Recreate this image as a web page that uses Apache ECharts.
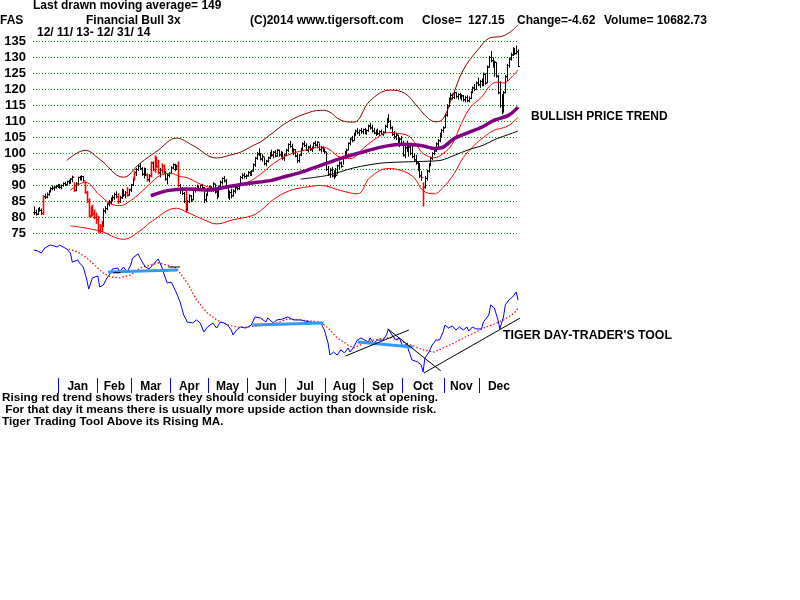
<!DOCTYPE html>
<html><head><meta charset="utf-8">
<script src="https://cdn.jsdelivr.net/npm/echarts@6/dist/echarts.min.js"></script>
<style>html,body{margin:0;padding:0;background:#fff}#c{width:800px;height:600px}</style>
</head><body><div id="c"></div>
<script>
// ---- daily price data (trading days 12/11/13 .. 12/31/14) ----
const priceHigh = [
 83.5,82.5,83.0,83.3,82.8,87.0,87.5,87.8,88.5,89.5,90.0,89.8,90.2,90.5,
 90.5,90.3,91.0,91.2,91.5,91.8,92.3,93.1,91.0,91.0,92.8,93.0,93.2,93.0,91.2,88.3,86.0,83.5,84.0,82.5,81.5,
 80.5,78.0,79.0,82.8,83.5,84.6,85.5,86.3,87.0,87.8,88.2,87.6,86.8,89.0,88.8,88.3,89.5,89.0,90.5,
 92.5,94.5,95.5,96.5,97.0,95.8,95.6,95.5,93.8,93.5,97.5,97.5,99.4,99.0,98.0,95.5,96.9,96.5,94.5,93.7,94.2,
 96.0,96.9,96.8,96.5,97.5,90.5,89.5,88.0,89.5,85.5,87.3,87.0,89.0,89.5,90.3,89.8,90.3,90.5,89.5,87.5,89.2,
 90.0,89.8,91.0,90.5,88.5,90.0,91.5,92.5,93.0,92.0,90.0,88.5,89.0,88.8,89.8,90.0,90.5,93.0,93.8,94.0,93.5,
 94.5,94.5,94.8,96.9,99.0,100.5,101.6,100.2,99.8,98.8,98.0,99.0,100.5,101.2,100.8,101.0,101.4,101.2,100.8,100.5,100.0,
 101.5,103.2,104.0,103.0,101.6,101.4,100.0,99.8,101.8,103.5,104.0,103.2,102.4,102.8,102.2,103.5,104.0,103.8,103.2,102.4,102.2,101.6,
 100.5,96.1,95.5,95.8,94.8,95.5,96.5,97.6,97.5,99.0,100.8,101.5,103.5,105.0,105.5,106.5,107.5,108.0,107.5,108.0,107.8,
 108.0,107.5,109.0,109.6,109.0,108.0,107.5,107.8,107.2,107.5,107.0,109.0,111.0,112.3,110.5,108.5,107.0,106.5,105.8,105.0,105.5,
 104.0,102.5,104.0,102.5,102.8,103.0,100.0,99.5,97.5,97.0,94.5,91.0,93.0,95.0,97.0,99.0,100.4,101.5,103.5,104.5,106.5,107.7,108.5,
 112.5,115.5,117.5,119.0,118.8,119.5,119.3,118.8,119.0,118.5,118.3,118.0,118.2,117.8,119.5,121.0,121.7,122.5,123.7,
 123.0,123.5,125.3,125.0,127.5,130.5,132.0,130.0,129.0,128.5,124.5,122.6,118.5,119.5,124.5,128.0,130.0,131.5,133.2,133.0,133.7,132.5
];
const priceLow = [
 80.8,80.6,80.8,81.8,80.8,80.8,85.8,86.0,86.8,87.8,88.5,88.4,89.0,89.2,
 89.0,88.8,89.6,89.8,90.0,90.4,90.5,91.0,88.0,88.2,90.3,91.6,91.5,91.2,87.4,84.5,80.0,80.0,80.5,79.5,78.0,
 75.2,75.0,75.5,77.0,81.2,82.3,83.5,84.0,85.0,85.5,86.0,84.3,84.5,85.8,86.5,86.0,86.5,86.8,88.0,
 89.8,91.5,93.0,94.5,94.8,93.0,92.2,93.0,91.2,91.0,92.5,94.5,94.0,95.5,93.5,92.5,93.7,93.5,91.5,90.3,92.5,
 93.5,95.0,94.5,94.8,89.6,87.3,87.0,84.5,81.5,82.2,84.5,84.8,85.5,87.8,88.3,88.4,88.5,88.8,84.5,84.8,86.8,
 88.2,88.0,88.0,87.5,85.7,86.3,89.0,90.3,91.0,89.5,86.0,85.5,86.0,86.5,87.5,88.5,88.6,90.0,92.0,92.2,92.0,
 92.8,93.0,93.0,94.3,95.8,98.0,99.2,97.8,97.5,96.3,96.0,97.2,98.2,99.0,98.5,98.8,99.0,99.0,98.8,98.0,97.7,
 99.2,100.5,101.8,100.3,99.5,98.8,97.0,97.2,99.2,100.8,102.0,100.8,100.3,100.8,100.5,101.5,102.2,101.9,100.8,100.3,100.5,99.8,
 94.5,93.0,92.4,92.5,92.0,92.5,93.5,95.0,95.5,96.5,98.2,99.5,101.0,102.5,103.5,104.0,105.5,106.0,105.5,106.2,106.0,
 106.0,105.8,106.8,107.5,106.5,106.0,105.5,105.8,105.5,105.8,105.5,106.5,108.0,109.5,107.5,105.5,104.5,104.2,103.0,102.0,102.5,
 99.0,98.5,100.5,99.0,99.5,98.5,97.5,96.5,94.5,92.3,91.5,83.5,89.0,91.5,94.0,96.0,98.0,99.5,100.5,102.0,103.5,105.0,106.5,
 108.0,111.5,114.5,116.5,116.8,117.0,117.2,116.8,117.0,116.5,116.2,116.0,116.0,116.0,117.0,118.8,119.5,120.0,121.0,
 120.5,121.0,121.0,121.5,122.0,126.8,128.5,126.8,124.0,123.7,118.5,114.3,112.3,112.8,118.8,122.6,126.8,129.0,130.5,130.8,131.0,127.0
];
const priceClose = [
 81.5,81.0,82.5,82.2,81.3,86.5,86.3,87.2,88.2,89.0,89.2,89.5,89.7,90.0,
 89.4,90.0,90.6,90.3,91.2,91.0,92.0,92.6,88.5,90.5,92.5,92.0,92.8,91.5,87.8,85.0,80.5,82.5,81.2,80.0,79.5,
 76.0,77.2,78.2,82.0,82.8,84.2,84.8,85.8,86.2,87.2,86.5,85.0,86.2,88.5,87.0,87.8,87.0,88.6,90.2,
 92.0,94.0,95.0,96.0,95.3,93.5,94.8,93.3,91.8,93.0,97.0,95.0,98.8,96.0,94.0,94.8,96.2,94.0,92.0,93.2,93.8,
 95.5,96.5,95.2,96.0,90.0,89.0,87.5,85.0,82.5,85.0,86.8,85.5,88.5,89.0,89.6,88.8,90.0,89.3,85.5,87.0,88.8,
 89.5,88.5,90.5,88.0,86.5,89.5,91.0,92.2,91.4,90.0,86.8,87.8,86.8,88.2,89.3,89.0,90.2,92.5,93.2,92.8,93.0,
 94.0,93.5,94.5,96.5,98.5,99.8,100.0,98.3,99.0,96.8,97.6,98.6,100.0,99.5,100.4,99.2,101.0,99.6,100.2,98.6,99.5,
 101.0,102.8,102.2,100.8,101.2,99.2,97.8,99.5,101.5,103.0,102.5,101.0,102.0,101.2,101.8,103.2,102.6,103.5,101.2,101.8,100.8,100.5,
 95.0,93.5,94.8,93.0,94.2,93.2,96.2,97.0,96.0,98.6,100.4,101.0,103.2,104.5,104.0,106.0,107.0,106.5,107.2,106.8,107.5,
 106.5,107.2,108.6,108.0,107.0,106.4,107.0,106.2,106.8,106.0,106.6,108.5,110.5,110.0,108.0,106.0,105.2,105.8,103.5,104.5,103.0,
 99.5,101.8,101.0,102.0,100.0,99.0,98.0,97.0,95.0,93.0,92.5,89.5,92.2,94.5,96.5,98.5,100.0,100.8,103.0,104.0,106.0,107.2,108.0,
 112.0,115.0,116.8,118.2,117.5,119.0,117.8,118.4,117.3,118.0,116.8,117.5,116.5,117.2,119.2,120.5,120.0,122.0,121.5,
 122.5,121.5,124.8,122.0,127.0,130.0,129.0,127.2,128.5,124.2,119.0,115.0,113.0,119.0,124.0,127.5,129.5,130.8,132.5,131.2,131.77,127.15
];
const redBarDays = [5,22,28,29,30,31,32,33,34,35,36,37,46,51,55,62,64,66,67,68,70,71,79,83,213];

// ---- bands and moving averages [tradingDay, value] ----
const upperBand = [[18,97.8],[28,101],[36,98.2],[49,92.6],[58,96.9],[68,101],[78,104.8],[87,102.5],[100,98.6],[108,99.6],[113,100.4],[120,102.5],[124,103.6],[131,106.6],[139,109.9],[148,112.3],[157,113.5],[161,113.2],[168,110.4],[175,109.8],[184,116.5],[195,119.8],[203,118.8],[210,114.6],[216,110.9],[220,109.9],[224,110.9],[229,117.7],[235,126.1],[243,132.4],[250,136.2],[256,136.6],[261,138.1],[265,140.2]];
const midBand = [[20,88.5],[28,91],[36,87],[42,84.3],[47,83.7],[53,85.3],[58,87.6],[64,90.8],[69,93.1],[75,93.8],[80,92.8],[84,92.4],[91,90.5],[100,89],[109,89.6],[117,91],[124,93.5],[131,96.8],[139,99.5],[148,101],[157,102],[161,101.5],[168,98.7],[173,98.4],[181,102],[188,105],[194,106.6],[199,106.3],[205,105.5],[209,103],[213,100],[219,98.7],[224,100],[229,103],[234,109.4],[239,114.5],[245,117.6],[250,121.4],[254,122.3],[257,122],[261,123.6],[265,126.1]];
const lowerBand = [[20,77.4],[36,75.8],[49,73.2],[58,75.8],[65,79],[78,82.9],[84,81.6],[93,79.3],[100,78],[109,79.3],[119,80.5],[124,82.1],[131,85.6],[140,88.4],[148,89.4],[157,90],[168,88.4],[177,87.4],[184,92.5],[194,95.3],[201,94.7],[208,92.5],[213,88.4],[219,87.4],[224,89.4],[230,93.7],[235,98.7],[241,102.5],[246,105],[252,107.3],[256,107.9],[260,108.8],[265,111.3]];
const ma50 = [[64,86.8],[73,88.4],[84,88.9],[95,88.6],[106,89.6],[117,90.6],[130,91.6],[135,92.4],[146,94.1],[157,96.3],[168,98.5],[179,100.3],[190,102],[201,102.9],[212,102.5],[219,101.6],[224,102],[230,104.7],[238,106.6],[245,108.2],[252,110.4],[260,112],[265,114.5]];
const ma200 = [[146,92],[161,93.2],[175,95.5],[190,97],[205,97.4],[216,97.6],[223,97.9],[230,99.4],[238,101.2],[246,102.6],[252,104.3],[265,107]];

// ---- Tiger day-trader's tool (lower panel) ----
const toolLine = [[0,95.3],[2,94.7],[4,93.3],[6,96.7],[9,98.7],[13,97.3],[14,98.7],[16,97.3],[18,96],[20,93.3],[21,87.3],[24,88.7],[25,86.7],[27,84],[29,75.3],[30,69.3],[32,76.7],[35,78],[36,70.7],[38,72],[40,76.7],[42,80],[43,82.7],[46,83.3],[47,80.7],[49,84],[51,80.7],[53,85.3],[54,90],[57,92.7],[59,88],[61,84],[63,82.7],[65,85.3],[66,84],[68,89.3],[70,84],[71,80],[73,73.3],[75,74],[76,72],[78,66.7],[80,60.7],[82,52],[84,47.3],[87,46.7],[89,48.7],[91,46.7],[93,40.7],[95,44],[98,46.7],[100,43.3],[102,47.3],[104,46.7],[106,45.3],[108,42],[109,38.7],[111,42],[113,44],[116,43.3],[119,45.3],[121,50.7],[124,50],[127,47.3],[128,50],[131,46.7],[133,48.7],[136,49.3],[139,50.7],[140,51.3],[142,48.7],[146,48.7],[151,47.3],[157,46.7],[159,42],[161,33.3],[162,25.3],[164,27.3],[166,25.3],[168,28.7],[170,26.7],[172,30],[173,27.3],[175,30.7],[177,35.3],[179,36.7],[181,35.3],[183,34],[184,36.7],[186,33.3],[188,35.3],[191,35.3],[193,38.7],[194,42.7],[196,38.7],[198,35.3],[200,36.7],[202,30.7],[204,33.3],[205,28.7],[207,22],[210,20.7],[212,18.7],[213,14],[214,23.3],[216,26.7],[218,32],[220,35.3],[222,35.3],[224,40.7],[225,45.3],[227,43.3],[229,44.7],[231,42],[233,44],[235,42],[237,44],[238,41.3],[240,44],[242,42.7],[245,42.7],[246,47.3],[249,52],[250,58.7],[252,56.7],[254,48.7],[255,42.7],[257,50.7],[258,58.7],[260,62],[262,64],[263,63.3],[264,67.3],[265,62]];
const toolMA = [[19,96],[24,94],[29,90],[35,83.3],[38,80],[42,77.3],[47,76.7],[53,78.7],[58,83.3],[64,85.3],[68,86.7],[73,85.3],[78,83.3],[84,73.3],[89,62],[95,53.3],[100,48.7],[106,45.3],[111,44],[117,44],[122,44.7],[128,45.3],[133,46.7],[139,49.3],[146,48.7],[151,48],[157,47.3],[161,43.3],[166,36.7],[172,32],[175,30],[181,33.3],[186,35.3],[192,36.7],[197,36.7],[202,34],[208,31.3],[213,28.7],[219,27.3],[224,30],[230,33.3],[235,36.7],[241,40],[246,43.3],[252,46],[257,48.7],[263,53.3],[265,56.7]];
const blueTrendLines = [[[40.6,80.7],[78.5,82]],[[119.6,45.3],[158.6,46.7]],[[177.2,34],[207.4,30.7]]];
const blackTrendLines = [[[170.6,24.7],[205.2,42]],[[193.7,42.7],[222.7,14.7]],[[213.4,13.3],[299.6,73.3]],[[43.5,80.2],[47.5,80.2]],[[73.5,84],[80,84]]];

// ---- axis labels ----
const priceTicks = [75,80,85,90,95,100,105,110,115,120,125,130,135];
const months = ['Jan','Feb','Mar','Apr','May','Jun','Jul','Aug','Sep','Oct','Nov','Dec'];
const monthStartDays = [14,35,54,75,96,117,138,160,181,202,225,244];
const lastDay = 265;

const FONT = '"Liberation Sans", Arial, sans-serif';
const monthTicks = monthStartDays.map(d => d - 0.5);
const monthMids = monthTicks.map((t, k) => (t + (k < monthTicks.length - 1 ? monthTicks[k + 1] : lastDay + 0.5)) / 2);
const redSet = new Set(redBarDays);
const barData = priceClose.map((c, i) => [i, i > 0 ? priceClose[i - 1] : c, c, priceLow[i], priceHigh[i], redSet.has(i) ? 1 : 0]);

const xBase = {type:'value', min:-0.5, max:lastDay + 0.5, show:false};
function lineS(data, color, width, extra) {
  return Object.assign({type:'line', data:data, showSymbol:false, symbol:'none', silent:true,
    lineStyle:{color:color, width:width}, animation:false}, extra || {});
}

const series = [];
series.push(lineS(upperBand, '#8b0000', 1, {smooth:0.4, clip:false}));
series.push(lineS(midBand, '#ff0000', 1, {smooth:0.4}));
series.push(lineS(lowerBand, '#ff0000', 1, {smooth:0.4, clip:false}));
series.push(lineS(ma200, '#000000', 1, {smooth:0.3}));
series.push(lineS(ma50, '#800080', 3.5, {smooth:0.3}));
series.push({
  type:'custom', xAxisIndex:0, yAxisIndex:0, data:barData, silent:true,
  encode:{x:0, y:[1,2,3,4]},
  renderItem: function(params, api) {
    const x = api.value(0);
    const o = api.coord([x, api.value(1)]);
    const c = api.coord([x, api.value(2)]);
    const l = api.coord([x, api.value(3)]);
    const h = api.coord([x, api.value(4)]);
    const red = api.value(5) === 1;
    const col = red ? '#ff0000' : '#000000';
    const px = Math.round(h[0]) + 0.5;
    const w = red ? 1.6 : 1;
    return {type:'group', children:[
      {type:'line', shape:{x1:px, y1:h[1], x2:px, y2:l[1]}, style:{stroke:col, lineWidth:w}},
      {type:'line', shape:{x1:px - 1.5, y1:o[1], x2:px, y2:o[1]}, style:{stroke:col, lineWidth:1}},
      {type:'line', shape:{x1:px, y1:c[1], x2:px + 1.5, y2:c[1]}, style:{stroke:col, lineWidth:1}}
    ]};
  }
});
// lower panel
series.push(lineS(toolMA, '#ff0000', 1, {xAxisIndex:1, yAxisIndex:1, lineStyle:{color:'#ff0000', width:1.2, type:[1.5,2]}}));
series.push(lineS(toolLine, '#0000ff', 1, {xAxisIndex:1, yAxisIndex:1}));
blueTrendLines.forEach(seg => series.push(lineS(seg, '#3399ff', 3, {xAxisIndex:1, yAxisIndex:1})));
blackTrendLines.forEach(seg => series.push(lineS(seg, '#000000', 1, {xAxisIndex:1, yAxisIndex:1, clip:false})));

const txt = (x, y, s, size) => ({type:'text', x:x, y:y, silent:true,
  style:{text:s, fill:'#000', font:'bold ' + (size || 12) + 'px ' + FONT, verticalAlign:'middle', align:'left'}});

const option = {
  backgroundColor:'#ffffff',
  animation:false,
  grid:[
    {left:33, width:486, top:41.5, height:192},
    {left:33, width:486, top:243, height:150},
    {left:33, width:486, top:378, height:15}
  ],
  xAxis:[
    Object.assign({gridIndex:0}, xBase),
    Object.assign({gridIndex:1}, xBase),
    {gridIndex:2, type:'value', min:-0.5, max:lastDay + 0.5, position:'bottom',
     axisLine:{show:false}, splitLine:{show:false},
     axisTick:{show:true, inside:true, length:15, customValues:monthTicks, lineStyle:{color:'#0000ff', width:1}},
     axisLabel:{show:true, inside:true, margin:0, customValues:monthMids,
       formatter: v => { const k = monthMids.findIndex(m => Math.abs(m - v) < 0.01); return k >= 0 ? months[k] : ''; },
       color:'#000', fontWeight:'bold', fontSize:12, fontFamily:FONT}}
  ],
  yAxis:[
    {gridIndex:0, type:'value', min:priceTicks[0], max:priceTicks[priceTicks.length-1], interval:5,
     axisLine:{show:false}, axisTick:{show:false},
     axisLabel:{color:'#000', fontWeight:'bold', fontSize:13, fontFamily:FONT, margin:7},
     splitLine:{show:true, lineStyle:{color:'#009000', width:1, type:[1,2]}}},
    {gridIndex:1, type:'value', min:0, max:100, show:false},
    {gridIndex:2, type:'value', min:0, max:1, show:false}
  ],
  series: series,
  graphic:[
    txt(33, 6, 'Last drawn moving average= 149'),
    txt(0, 21, 'FAS'),
    txt(86, 21, 'Financial Bull 3x'),
    txt(250, 21, '(C)2014 www.tigersoft.com'),
    txt(422, 21, 'Close='),
    txt(468, 21, '127.15'),
    txt(517, 21, 'Change=-4.62'),
    txt(604, 21, 'Volume= 10682.73'),
    txt(37, 33, '12/ 11/ 13- 12/ 31/ 14'),
    txt(531, 117, 'BULLISH PRICE TREND'),
    txt(503, 336, "TIGER DAY-TRADER'S TOOL", 12.3),
    txt(2, 398, 'Rising red trend shows traders they should consider buying stock at opening.', 11.75),
    txt(2, 410, ' For that day it means there is usually more upside action than downside risk.', 11.75),
    txt(2, 422, 'Tiger Trading Tool Above its Rising MA.', 11.75)
  ]
};
const chart = echarts.init(document.getElementById('c'), null, {renderer:'canvas'});
chart.setOption(option);
</script></body></html>
